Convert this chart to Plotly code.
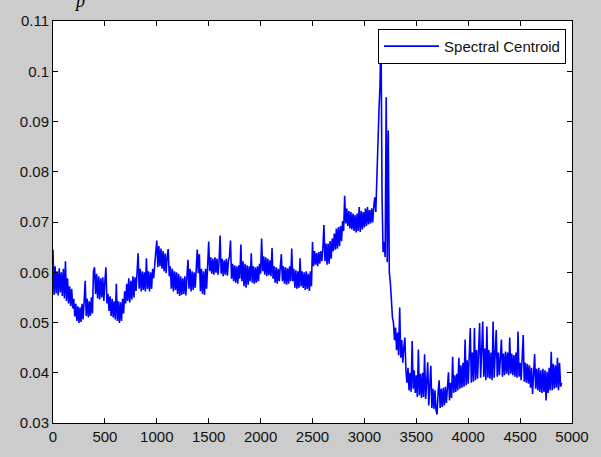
import plotly.graph_objects as go

# sample index step between the read-off values
sample_step = 10

centroid = [
    0.0645, 0.0555, 0.0612, 0.0558, 0.0602, 0.0554, 0.0608, 0.0560, 0.0600, 0.0553,
    0.0607, 0.0548, 0.0622, 0.0543, 0.0588, 0.0538, 0.0572, 0.0533, 0.0567, 0.0528,
    0.0547, 0.0512, 0.0537, 0.0503, 0.0532, 0.0499, 0.0530, 0.0501, 0.0537, 0.0506,
    0.0542, 0.0583, 0.0513, 0.0547, 0.0510, 0.0542, 0.0513, 0.0550, 0.0518, 0.0602,
    0.0610, 0.0557, 0.0597, 0.0548, 0.0592, 0.0546, 0.0588, 0.0550, 0.0590, 0.0543,
    0.0582, 0.0610, 0.0538, 0.0557, 0.0523, 0.0552, 0.0513, 0.0547, 0.0510, 0.0542,
    0.0506, 0.0577, 0.0503, 0.0542, 0.0499, 0.0540, 0.0503, 0.0547, 0.0518, 0.0562,
    0.0538, 0.0577, 0.0543, 0.0588, 0.0540, 0.0583, 0.0546, 0.0592, 0.0550, 0.0590,
    0.0563, 0.0612, 0.0638, 0.0567, 0.0607, 0.0562, 0.0602, 0.0565, 0.0600, 0.0562,
    0.0628, 0.0567, 0.0602, 0.0562, 0.0600, 0.0567, 0.0607, 0.0588, 0.0627, 0.0640,
    0.0663, 0.0610, 0.0652, 0.0612, 0.0647, 0.0607, 0.0642, 0.0602, 0.0637, 0.0598,
    0.0632, 0.0646, 0.0592, 0.0612, 0.0567, 0.0607, 0.0562, 0.0602, 0.0565, 0.0600,
    0.0557, 0.0597, 0.0553, 0.0592, 0.0555, 0.0588, 0.0557, 0.0592, 0.0554, 0.0597,
    0.0625, 0.0567, 0.0607, 0.0562, 0.0602, 0.0565, 0.0600, 0.0569, 0.0612, 0.0645,
    0.0598, 0.0636, 0.0562, 0.0607, 0.0557, 0.0602, 0.0555, 0.0607, 0.0567, 0.0617,
    0.0661, 0.0602, 0.0630, 0.0597, 0.0627, 0.0595, 0.0630, 0.0599, 0.0627, 0.0595,
    0.0622, 0.0673, 0.0597, 0.0627, 0.0592, 0.0624, 0.0595, 0.0627, 0.0593, 0.0622,
    0.0632, 0.0663, 0.0587, 0.0617, 0.0582, 0.0614, 0.0579, 0.0612, 0.0577, 0.0614,
    0.0587, 0.0655, 0.0582, 0.0622, 0.0572, 0.0617, 0.0569, 0.0614, 0.0575, 0.0612,
    0.0582, 0.0638, 0.0579, 0.0612, 0.0577, 0.0610, 0.0579, 0.0612, 0.0582, 0.0617,
    0.0597, 0.0667, 0.0602, 0.0632, 0.0595, 0.0630, 0.0592, 0.0627, 0.0594, 0.0624,
    0.0592, 0.0648, 0.0587, 0.0612, 0.0579, 0.0610, 0.0577, 0.0607, 0.0582, 0.0612,
    0.0636, 0.0582, 0.0612, 0.0577, 0.0610, 0.0575, 0.0608, 0.0577, 0.0612, 0.0582,
    0.0647, 0.0582, 0.0607, 0.0569, 0.0604, 0.0567, 0.0602, 0.0569, 0.0628, 0.0572,
    0.0602, 0.0569, 0.0600, 0.0565, 0.0602, 0.0567, 0.0597, 0.0563, 0.0602, 0.0572,
    0.0660, 0.0612, 0.0642, 0.0615, 0.0638, 0.0612, 0.0640, 0.0617, 0.0642, 0.0622,
    0.0647, 0.0694, 0.0622, 0.0657, 0.0615, 0.0657, 0.0617, 0.0662, 0.0627, 0.0667,
    0.0642, 0.0677, 0.0645, 0.0687, 0.0647, 0.0690, 0.0652, 0.0692, 0.0662, 0.0702,
    0.0682, 0.0752, 0.0697, 0.0727, 0.0692, 0.0722, 0.0687, 0.0720, 0.0685, 0.0717,
    0.0682, 0.0714, 0.0679, 0.0717, 0.0682, 0.0730, 0.0680, 0.0722, 0.0685, 0.0720,
    0.0689, 0.0727, 0.0692, 0.0730, 0.0695, 0.0724, 0.0697, 0.0727, 0.0699, 0.0730,
    0.0749, 0.0720, 0.0798, 0.0850, 0.0920, 0.0970, 0.1080, 0.0750, 0.0640, 0.0660,
    0.0630, 0.0948, 0.0620, 0.0882, 0.0600, 0.0580, 0.0540, 0.0510, 0.0500, 0.0465,
    0.0490, 0.0445, 0.0480, 0.0435, 0.0530, 0.0430, 0.0465, 0.0420, 0.0450, 0.0470,
    0.0405, 0.0380, 0.0410, 0.0365, 0.0400, 0.0362, 0.0463, 0.0368, 0.0405, 0.0360,
    0.0395, 0.0352, 0.0446, 0.0355, 0.0398, 0.0350, 0.0400, 0.0352, 0.0437, 0.0348,
    0.0380, 0.0421, 0.0335, 0.0370, 0.0414, 0.0330, 0.0368, 0.0328, 0.0365, 0.0325,
    0.0317, 0.0360, 0.0385, 0.0330, 0.0368, 0.0332, 0.0370, 0.0335, 0.0372, 0.0340,
    0.0375, 0.0401, 0.0345, 0.0380, 0.0350, 0.0432, 0.0360, 0.0395, 0.0362, 0.0398,
    0.0365, 0.0430, 0.0368, 0.0415, 0.0370, 0.0420, 0.0372, 0.0466, 0.0375, 0.0425,
    0.0378, 0.0438, 0.0489, 0.0380, 0.0440, 0.0382, 0.0489, 0.0385, 0.0445, 0.0388,
    0.0440, 0.0499, 0.0390, 0.0445, 0.0502, 0.0392, 0.0448, 0.0385, 0.0492, 0.0390,
    0.0445, 0.0388, 0.0440, 0.0385, 0.0502, 0.0390, 0.0445, 0.0485, 0.0392, 0.0440,
    0.0395, 0.0440, 0.0466, 0.0392, 0.0438, 0.0395, 0.0442, 0.0398, 0.0440, 0.0395,
    0.0470, 0.0398, 0.0438, 0.0395, 0.0435, 0.0392, 0.0440, 0.0390, 0.0482, 0.0392,
    0.0420, 0.0385, 0.0425, 0.0475, 0.0382, 0.0420, 0.0380, 0.0418, 0.0378, 0.0415,
    0.0370, 0.0410, 0.0358, 0.0405, 0.0437, 0.0368, 0.0408, 0.0365, 0.0410, 0.0362,
    0.0405, 0.0360, 0.0408, 0.0362, 0.0405, 0.0345, 0.0402, 0.0360, 0.0410, 0.0365,
    0.0442, 0.0365, 0.0418, 0.0368, 0.0415, 0.0370, 0.0430, 0.0365, 0.0420, 0.0372,
    0.0380,
]
sample_index = [i * sample_step for i in range(len(centroid))]

x_ticks = [0, 500, 1000, 1500, 2000, 2500, 3000, 3500, 4000, 4500, 5000]
y_ticks = [0.03, 0.04, 0.05, 0.06, 0.07, 0.08, 0.09, 0.1, 0.11]
y_tick_labels = ["0.03", "0.04", "0.05", "0.06", "0.07", "0.08", "0.09", "0.1", "0.11"]

fig = go.Figure()
fig.add_trace(go.Scatter(
    x=sample_index, y=centroid, mode="lines", name="Spectral Centroid",
    line=dict(color="#0000ff", width=1.6),
))

axis_common = dict(
    showline=True, linecolor="black", linewidth=1, mirror="ticks",
    ticks="inside", ticklen=5, tickcolor="black", showgrid=False, zeroline=False,
    tickfont=dict(family="Liberation Sans, Arial, sans-serif", size=15, color="#111111"),
)
fig.update_xaxes(range=[0, 5000], tickvals=x_ticks, **axis_common)
fig.update_yaxes(range=[0.03, 0.11], tickvals=y_ticks, ticktext=y_tick_labels, **axis_common)

fig.update_layout(
    width=601, height=457,
    margin=dict(l=53, r=27, t=15, b=32),
    paper_bgcolor="#cccccc", plot_bgcolor="white",
    showlegend=True,
    legend=dict(
        x=0.9885, y=0.9805, xanchor="right", yanchor="top",
        bgcolor="white", bordercolor="black", borderwidth=1,
        itemwidth=55,
        font=dict(family="Liberation Sans, Arial, sans-serif", size=15, color="#111111"),
    ),
    annotations=[dict(
        text="<i>p</i>", xref="paper", yref="paper", x=0.052, y=1.02,
        xanchor="center", yanchor="bottom", showarrow=False,
        font=dict(family="Liberation Serif, serif", size=18, color="black"),
    )],
)

fig.write_html("out.html")
